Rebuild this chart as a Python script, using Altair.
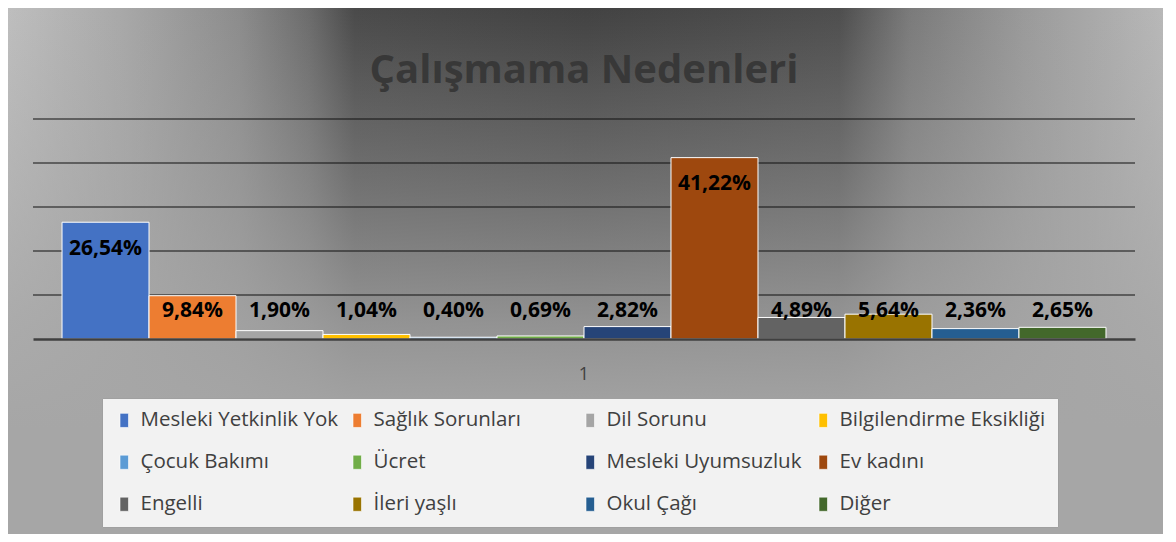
import altair as alt
import pandas as pd

title_text = "Çalışmama Nedenleri"
categories = [
    "Mesleki Yetkinlik Yok", "Sağlık Sorunları", "Dil Sorunu", "Bilgilendirme Eksikliği",
    "Çocuk Bakımı", "Ücret", "Mesleki Uyumsuzluk", "Ev kadını",
    "Engelli", "İleri yaşlı", "Okul Çağı", "Diğer",
]
values = [26.54, 9.84, 1.90, 1.04, 0.40, 0.69, 2.82, 41.22, 4.89, 5.64, 2.36, 2.65]
colors = ["#4472C4", "#ED7D31", "#A5A5A5", "#FFC000", "#5B9BD5", "#70AD47",
          "#264478", "#9E480E", "#636363", "#997300", "#255E91", "#43682B"]
group_label = ["1"]
grid_values = [10, 20, 30, 40, 50]

df = pd.DataFrame({"grp": group_label * len(categories), "kategori": categories, "deger": values})
grid_df = pd.DataFrame({"g": grid_values})
one = pd.DataFrame({"a": [0]})

W, H = 1102, 220
PAD = {"left": 25, "top": 111, "right": 28, "bottom": 195}

yscale = alt.Scale(domain=[0, 50])

bg = alt.Chart(one).mark_rect(
    fill=alt.LinearGradient(
        gradient="linear", x1=0, y1=0, x2=1, y2=0,
        stops=[
            alt.GradientStop(color="#bebebe", offset=0),
            alt.GradientStop(color="#a8a8a8", offset=0.1),
            alt.GradientStop(color="#8c8c8c", offset=0.2),
            alt.GradientStop(color="#6c6c6c", offset=0.26),
            alt.GradientStop(color="#4a4a4a", offset=0.3),
            alt.GradientStop(color="#424242", offset=0.5),
            alt.GradientStop(color="#4e4e4e", offset=0.72),
            alt.GradientStop(color="#7a7a7a", offset=0.78),
            alt.GradientStop(color="#9a9a9a", offset=0.88),
            alt.GradientStop(color="#b8b8b8", offset=1),
        ],
    )
).encode(x=alt.value(-PAD["left"]), x2=alt.value(W + PAD["right"]),
         y=alt.value(-PAD["top"]), y2=alt.value(H + PAD["bottom"]))

overlay = alt.Chart(one).mark_rect(
    fill=alt.LinearGradient(
        gradient="linear", x1=0, y1=0, x2=0, y2=1,
        stops=[
            alt.GradientStop(color="rgba(166,166,166,0)", offset=0),
            alt.GradientStop(color="rgba(166,166,166,0.45)", offset=0.35),
            alt.GradientStop(color="rgba(166,166,166,0.8)", offset=0.6),
            alt.GradientStop(color="rgba(166,166,166,1)", offset=0.8),
            alt.GradientStop(color="rgba(166,166,166,1)", offset=1),
        ],
    )
).encode(x=alt.value(-PAD["left"]), x2=alt.value(W + PAD["right"]),
         y=alt.value(-PAD["top"]), y2=alt.value(H + PAD["bottom"]))

grid = alt.Chart(grid_df).mark_rule(color="#111111", strokeWidth=1.2).encode(
    y=alt.Y("g:Q", scale=yscale, axis=None)
)

xenc = alt.X("grp:N", scale=alt.Scale(paddingInner=0, paddingOuter=0.0278),
             axis=alt.Axis(title=None, labelAngle=0, ticks=False, domain=True,
                           domainColor="#404040", domainWidth=2.5, labelPadding=26,
                           labelFont="Open Sans", labelFontSize=18, labelColor="#404040",
                           zindex=1))
xoff = alt.XOffset("kategori:N", sort=categories, scale=alt.Scale(paddingInner=0, paddingOuter=0))

bars = alt.Chart(df).mark_bar(stroke="white", strokeWidth=1).encode(
    x=xenc,
    xOffset=xoff,
    y=alt.Y("deger:Q", scale=yscale, axis=None),
    color=alt.Color("kategori:N", sort=categories,
                    scale=alt.Scale(domain=categories, range=colors),
                    legend=alt.Legend(
                        title=None, orient="none", legendX=69, legendY=279,
                        direction="horizontal",
                        columns=4, gridAlign="all", columnPadding=0, rowPadding=21,
                        padding=12, fillColor="#f2f2f2", strokeColor="#a0a0a0",
                        symbolType="M-0.6,-1H0.6V1H-0.6Z", symbolSize=200,
                        symbolStrokeColor="white", symbolStrokeWidth=0.6, symbolOpacity=1,
                        labelFont="Open Sans", labelFontSize=20.5, labelColor="#404040",
                        labelLimit=400, labelOffset=6,
                    )),
)

labels = alt.Chart(df).transform_calculate(
    labpos="max(datum.deger - 6.1, 6.35)",
    lab="replace(format(datum.deger, '.2f'), '.', ',') + '%'",
).mark_text(font="Open Sans", fontWeight="bold", fontSize=21, color="black",
            baseline="middle", align="center").encode(
    x=xenc,
    xOffset=xoff,
    y=alt.Y("labpos:Q", scale=yscale, axis=None),
    text="lab:N",
)

title = alt.Chart(one).mark_text(
    font="Open Sans", fontWeight="bold", fontSize=40, color="#383838",
    align="center", baseline="alphabetic", text=title_text,
).encode(x=alt.value(W / 2), y=alt.value(-36))

chart = alt.layer(bg, overlay, grid, bars, labels, title).properties(
    width=W, height=H, padding=PAD, autosize="none", background="white"
).configure_view(stroke=None)

chart.save("out.html", embed_options={"renderer": "svg", "actions": False})
